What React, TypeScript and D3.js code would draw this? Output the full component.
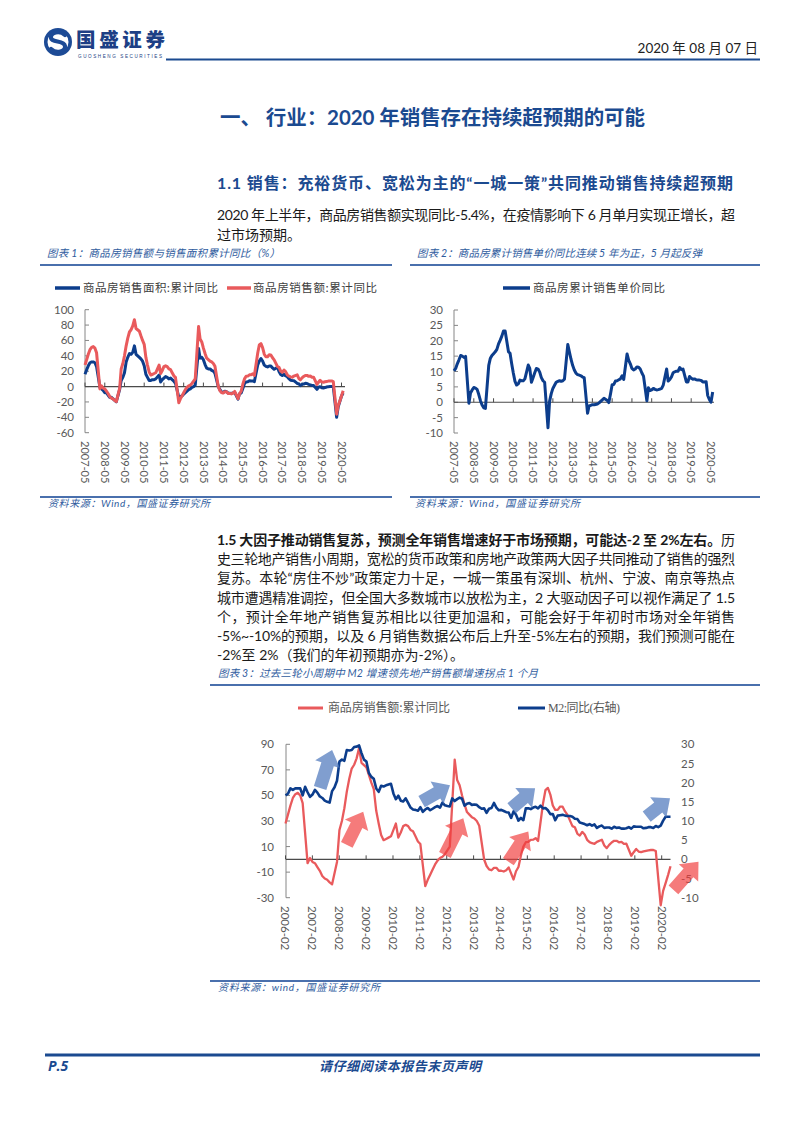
import React from "react";
import * as d3 from "d3";

// ---------- categories ----------
const MONTHS: Date[] = [];
for (let yy = 2007; yy <= 2020; yy++) {
  for (let mm = 1; mm <= 12; mm++) {
    if ((yy === 2007 && mm < 5) || (yy === 2020 && mm > 6)) continue;
    MONTHS.push(new Date(yy, mm - 1, 1));
  }
}
const TICKS_12 = ["2007-05","2008-05","2009-05","2010-05","2011-05","2012-05","2013-05","2014-05","2015-05","2016-05","2017-05","2018-05","2019-05","2020-05"];
const TICKS_3 = ["2006-02","2007-02","2008-02","2009-02","2010-02","2011-02","2012-02","2013-02","2014-02","2015-02","2016-02","2017-02","2018-02","2019-02","2020-02"];
const Y1_TICKS = [100, 80, 60, 40, 20, 0, -20, -40, -60];
const Y2_TICKS = [30, 25, 20, 15, 10, 5, 0, -5, -10];
const Y3L_TICKS = [90, 70, 50, 30, 10, -10, -30];
const Y3R_TICKS = [30, 25, 20, 15, 10, 5, 0, -5, -10];

// ---------- series (monthly, 2007-05 .. 2020-06; January not published => null) ----------
const salesAmountYoY: (number | null)[] = [
  28, 35, 42, 48, 51, 52, 50, 44,
  null, -3, 1, -2, -3, -6, -9, -13, -15, -16, -18, -19.5,
  null, -2, 23, 30, 40, 53, 63, 71, 74, 79, 87, 75.5,
  null, 72, 66, 60, 55, 38, 28, 19, 15, 16, 17, 18,
  null, 28, 17, 21, 26, 27, 26, 23, 22, 18, 14, 12,
  null, -21, -16, -12, -8, -4, -1, 1, 2, 4, 7, 10,
  null, 78, 62, 58, 50, 43, 37, 35, 33, 32, 30, 26.3,
  null, -0.1, -5.2, -7.8, -8.5, -6.7, -6.6, -8.9, -8.9, -9.5, -8.5, -6.3,
  null, -15.8, -9.3, -6.0, 3.0, 10.0, 13.4, 13.6, 15.3, 15.4, 16.6, 14.4,
  null, 43.6, 54.1, 55.9, 50.7, 42.1, 38.7, 38.7, 41.3, 41.2, 37.5, 34.8,
  null, 26.0, 25.1, 20.2, 18.6, 21.5, 19.5, 15.3, 13.5, 12.6, 12.2, 13.7,
  null, 15.3, 10.8, 8.8, 11.3, 13.2, 14.5, 14.5, 13.3, 13.7, 12.1, 12.2,
  null, 2.8, 5.6, 8.1, 6.1, 5.6, 6.2, 6.7, 7.1, 7.3, 7.3, 6.5,
  null, -35.9, -24.7, -18.6, -12.3, -5.4,
];
const salesAreaYoY: (number | null)[] = [
  16, 22, 27, 31, 32, 32, 31, 26,
  null, -1, -3, -5, -8, -8, -11, -14, -14, -16, -18, -19.7,
  null, -3.5, 8, 12, 18, 32, 38, 43, 42, 44.5, 53, 42,
  null, 38, 36, 33, 27, 16, 12, 8, 8, 9, 9, 10,
  null, 15, 6, 9, 11, 13, 12, 10, 11, 9, 7, 4.4,
  null, -14, -13, -12, -10, -8, -6, -4, -3, -1, 0, 2,
  null, 49.5, 37, 38, 35, 28.7, 24, 23, 23, 21, 20, 17.3,
  null, -0.1, -3.8, -6.8, -7.8, -6.0, -6.7, -8.3, -8.6, -8.9, -8.2, -7.6,
  null, -16.3, -9.2, -8.5, -2.6, 4.0, 6.1, 6.2, 7.5, 7.2, 7.4, 6.5,
  null, 28.2, 33.1, 36.5, 33.2, 27.9, 26.4, 25.5, 26.9, 26.8, 24.3, 22.5,
  null, 25.1, 19.5, 15.7, 14.3, 16.1, 14.0, 12.7, 10.3, 8.2, 7.9, 7.7,
  null, 4.1, 3.6, 1.3, 2.9, 3.3, 4.2, 4.0, 2.9, 2.2, 1.4, 1.3,
  null, -3.6, -0.9, -0.3, -1.6, -1.8, -1.3, -0.6, -0.1, 0.1, 0.2, -0.1,
  null, -39.9, -26.3, -19.3, -12.3, -8.4,
];
const priceYoY: (number | null)[] = [
  10.2, 11.0, 12.5, 13.8, 15.2, 15.0, 14.6, 14.9,
  null, -0.3, 3.0, 4.0, 4.8, 4.6, 4.2, 2.5, 0.5, -0.9, -1.8, -2.0,
  null, 12.0, 14.2, 15.2, 15.8, 16.4, 17.2, 19.0, 20.2, 21.5, 23.2, 23.2,
  null, 16.4, 16.0, 12.5, 9.5, 6.8, 5.6, 6.0, 7.2, 7.0, 7.0, 7.6,
  null, 12.1, 11.0, 6.5, 8.0, 9.6, 11.0, 10.8, 9.8, 8.0, 7.0, 6.5,
  null, -8.3, 0.3, 2.8, 4.5, 5.5, 6.5, 6.8, 7.0, 6.8, 7.0, 7.5,
  null, 18.8, 16.5, 14.0, 12.0, 10.5, 9.5, 9.0, 8.8, 8.6, 8.2, 8.0,
  null, -3.6, -1.2, -1.0, -0.8, -0.8, -0.7, -0.6, -0.2, 0.3, 0.8, 1.3,
  null, 0.6, -0.1, 2.7, 5.7, 5.8, 6.9, 7.0, 7.3, 7.6, 8.6, 7.4,
  null, 15.7, 13.7, 12.5, 11.0, 10.5, 10.8, 11.5, 11.4, 10.8, 9.5, 8.5,
  null, 0.5, 4.7, 3.8, 4.0, 4.5, 4.2, 4.0, 4.1, 4.3, 4.5, 5.6,
  null, 10.8, 6.9, 7.4, 8.2, 9.6, 9.9, 10.1, 10.1, 11.3, 10.6, 10.8,
  null, 6.6, 6.6, 8.4, 7.8, 7.5, 7.6, 7.3, 7.2, 7.2, 7.1, 6.6,
  null, 6.7, 2.2, 0.9, 0.0, 3.3,
];
const m2YoY: number[] = [
  16.7, 17.1, 18.5, 18.1, 18.5, 18.5, 18.5, 16.7,
  18.9, 17.5, 16.3, 16.9, 18.1, 17.4, 16.4, 16.0, 15.3, 15.0, 14.8, 17.8,
  18.8, 20.5, 25.5, 26.0, 25.7, 28.5, 28.4, 28.5, 29.3, 29.4, 29.7, 27.7,
  26.0, 25.5, 22.5, 21.5, 21.0, 18.5, 17.6, 19.2, 19.0, 19.3, 19.5, 19.7,
  17.2, 15.7, 16.6, 15.3, 15.1, 15.9, 14.7, 13.5, 13.0, 12.9, 12.7, 13.6,
  12.4, 13.0, 13.4, 12.8, 13.2, 13.6, 13.9, 13.5, 14.8, 14.1, 13.9, 13.8,
  15.9, 15.2, 15.7, 16.1, 15.8, 14.0, 14.5, 14.7, 14.2, 14.3, 14.2, 13.6,
  13.2, 13.3, 12.1, 13.2, 13.4, 14.7, 13.5, 12.8, 12.9, 12.6, 12.3, 12.2,
  10.8, 12.5, 11.6, 10.1, 10.8, 10.2, 13.3, 13.3, 13.1, 13.5, 13.7, 13.3,
  14.0, 13.3, 13.4, 12.8, 11.8, 11.8, 10.2, 11.4, 11.5, 11.6, 11.4, 11.3,
  11.3, 11.1, 10.6, 10.5, 9.6, 9.4, 9.2, 8.9, 9.2, 8.8, 9.1, 8.2,
  8.6, 8.8, 8.2, 8.3, 8.3, 8.0, 8.5, 8.2, 8.3, 8.0, 8.0, 8.1,
  8.4, 8.0, 8.6, 8.5, 8.5, 8.5, 8.1, 8.2, 8.4, 8.4, 8.2, 8.7,
  8.4, 8.8, 10.1, 11.1, 11.1, 11.1,
];
// annotation arrows for chart 3, in data space: [tailIndex, tailValue(left), tipIndex, tipValue(left)]
const blueArrows = [
  [14.1, 55.9, 19.0, 85.6],
  [55.5, 45.1, 67.1, 57.9],
  [92.2, 40.0, 101.8, 55.6],
  [147.3, 33.4, 156.8, 47.8],
];
const redArrows = [
  [25.0, 11.3, 31.7, 37.3],
  [65.0, 3.4, 72.5, 32.2],
  [90.9, -1.8, 99.0, 21.7],
  [158.2, -23.9, 168.4, -1.8],
];

// ---------- text ----------
const PARA1 = ["2020 年上半年，商品房销售额实现同比-5.4%，在疫情影响下 6 月单月实现正增长，超", "过市场预期。"];
const PARA2_BOLD = "1.5 大因子推动销售复苏，预测全年销售增速好于市场预期，可能达-2 至 2%左右。";
const PARA2 = [
  "历",
  "史三轮地产销售小周期，宽松的货币政策和房地产政策两大因子共同推动了销售的强烈",
  "复苏。本轮“房住不炒”政策定力十足，一城一策虽有深圳、杭州、宁波、南京等热点",
  "城市遭遇精准调控，但全国大多数城市以放松为主，2 大驱动因子可以视作满足了 1.5",
  "个，预计全年地产销售复苏相比以往更加温和，可能会好于年初时市场对全年销售",
  "-5%~-10%的预期，以及 6 月销售数据公布后上升至-5%左右的预期，我们预测可能在",
  "-2%至 2%（我们的年初预期亦为-2%）。",
];

const CJK = "'Noto Sans CJK SC', sans-serif";
const MIX = "Lato, 'Noto Sans CJK SC', sans-serif";
const NUM = "Lato, 'Open Sans', sans-serif";
const BLUE = "#0c3d8c";
const RED = "#e95a5c";
const HEAD = "#1b4a90";
const CAP = "#2f5c9e";
const AXIS = "#868686";
const ZERO = "#4a4a4a";
const TICKTXT = "#595959";

const parseM = d3.timeParse("%Y-%m");

type Series = { values: (number | null)[]; color: string; width: number };

function TimeChart(props: {
  x0: number; x1: number; yTop: number; yBot: number; domain: [number, number];
  yTicks: number[]; series: Series[]; zeroEnd: number;
}) {
  const { x0, x1, yTop, yBot, domain, yTicks, series, zeroEnd } = props;
  const x = d3.scaleTime().domain([new Date(2007, 4, 1), new Date(2020, 4, 1)]).range([x0, x1]);
  const y = d3.scaleLinear().domain(domain).range([yBot, yTop]);
  const line = d3.line<[Date, number]>().x((d) => x(d[0])).y((d) => y(d[1]));
  const y0 = y(0);
  return (
    <g>
      <line x1={x0} x2={x0} y1={yTop} y2={yBot} stroke={AXIS} strokeWidth={1} />
      {yTicks.map((t) => (
        <g key={t}>
          <line x1={x0} x2={x0 + 4} y1={y(t)} y2={y(t)} stroke={AXIS} strokeWidth={1} />
          <text x={x0 - 11} y={y(t)} dy="0.35em" textAnchor="end" fontFamily={NUM} fontSize={11.5} fill={TICKTXT}>{t}</text>
        </g>
      ))}
      <line x1={x0} x2={zeroEnd} y1={y0} y2={y0} stroke={ZERO} strokeWidth={1.2} />
      {TICKS_12.map((lab) => {
        const xx = x(parseM(lab) as Date);
        return (
          <g key={lab}>
            <line x1={xx} x2={xx} y1={y0 - 4} y2={y0} stroke={ZERO} strokeWidth={1} />
            <text transform={`translate(${xx},441) rotate(90)`} dy="0.35em" textAnchor="start" fontFamily={NUM} fontSize={11} fill={TICKTXT}>{lab}</text>
          </g>
        );
      })}
      {series.map((s, k) => {
        const pts = MONTHS.map((d, i) => [d, s.values[i]] as [Date, number | null]).filter((p) => p[1] != null) as [Date, number][];
        return <path key={k} d={line(pts) || ""} fill="none" stroke={s.color} strokeWidth={s.width} strokeLinejoin="round" />;
      })}
    </g>
  );
}

function arrowPath(tx: number, ty: number, hx: number, hy: number, shaft: number, head: number, headLen: number) {
  const dx = hx - tx, dy = hy - ty;
  const L = Math.hypot(dx, dy);
  const ux = dx / L, uy = dy / L;
  const px = -uy, py = ux;
  const bx = hx - ux * headLen, by = hy - uy * headLen;
  const pts = [
    [tx + px * shaft / 2, ty + py * shaft / 2],
    [bx + px * shaft / 2, by + py * shaft / 2],
    [bx + px * head / 2, by + py * head / 2],
    [hx, hy],
    [bx - px * head / 2, by - py * head / 2],
    [bx - px * shaft / 2, by - py * shaft / 2],
    [tx - px * shaft / 2, ty - py * shaft / 2],
  ];
  return "M" + pts.map((p) => p[0].toFixed(1) + "," + p[1].toFixed(1)).join("L") + "Z";
}

function Chart3() {
  const xi = d3.scaleLinear().domain([0, MONTHS.length - 1]).range([285.5, 670.5]);
  const xl = d3.scalePoint<string>().domain(TICKS_3).range([285.5, 661.7]);
  const yL = d3.scaleLinear().domain([-30, 90]).range([897.7, 744.3]);
  const yR = d3.scaleLinear().domain([-10, 30]).range([897.7, 744.3]);
  const x0 = 286;
  const y0 = yL(0);
  const redPts = salesAmountYoY.map((v, i) => [i, v] as [number, number | null]).filter((p) => p[1] != null) as [number, number][];
  const bluePts = m2YoY.map((v, i) => [i, v] as [number, number]);
  const lineL = d3.line<[number, number]>().x((d) => xi(d[0])).y((d) => yL(d[1]));
  const lineR = d3.line<[number, number]>().x((d) => xi(d[0])).y((d) => yR(d[1]));
  return (
    <g>
      {/* legend */}
      <line x1={298} x2={323} y1={708} y2={708} stroke={RED} strokeWidth={3} />
      <text x={328} y={712} fontFamily={CJK} fontSize={12} fill={TICKTXT} textLength={122} lengthAdjust="spacing">商品房销售额:累计同比</text>
      <line x1={518} x2={545} y1={708} y2={708} stroke={BLUE} strokeWidth={3} />
      <text x={548} y={712} fontFamily="'Liberation Serif', 'Noto Sans CJK SC', serif" fontSize={12} fill={TICKTXT} textLength={72} lengthAdjust="spacing">M2:同比(右轴)</text>

      <line x1={x0} x2={x0} y1={744.3} y2={897.7} stroke={AXIS} strokeWidth={1} />
      {Y3L_TICKS.map((t) => (
        <g key={t}>
          <line x1={x0} x2={x0 + 4} y1={yL(t)} y2={yL(t)} stroke={AXIS} />
          <text x={274} y={yL(t)} dy="0.35em" textAnchor="end" fontFamily={NUM} fontSize={11.5} fill={TICKTXT}>{t}</text>
        </g>
      ))}
      {Y3R_TICKS.map((t) => (
        <text key={t} x={681} y={yR(t)} dy="0.35em" textAnchor="start" fontFamily={NUM} fontSize={11.5} fill={TICKTXT}>{t}</text>
      ))}
      <line x1={x0} x2={670.5} y1={y0} y2={y0} stroke={ZERO} strokeWidth={1.2} />
      {TICKS_3.map((lab) => {
        const xx = xl(lab) as number;
        return (
          <g key={lab}>
            <line x1={xx} x2={xx} y1={y0 - 4} y2={y0} stroke={ZERO} />
            <text transform={`translate(${xx},906) rotate(90)`} dy="0.35em" fontFamily={NUM} fontSize={11.5} fill={TICKTXT}>{lab}</text>
          </g>
        );
      })}
      <path d={lineL(redPts) || ""} fill="none" stroke={RED} strokeWidth={2.3} strokeLinejoin="round" />
      <path d={lineR(bluePts) || ""} fill="none" stroke={BLUE} strokeWidth={2.6} strokeLinejoin="round" />
      {blueArrows.map((a, k) => (
        <path key={"b" + k} d={arrowPath(xi(a[0]), yL(a[1]), xi(a[2]), yL(a[3]), 13, 26, 15)} fill="#4f79bd" fillOpacity={0.72} />
      ))}
      {redArrows.map((a, k) => (
        <path key={"r" + k} d={arrowPath(xi(a[0]), yL(a[1]), xi(a[2]), yL(a[3]), 13, 26, 15)} fill="#f03c3c" fillOpacity={0.68} />
      ))}
    </g>
  );
}

function Logo() {
  return (
    <g>
      <circle cx={58} cy={42} r={14} fill="#1d4b96" />
      <circle cx={58} cy={42} r={10.5} fill="#fff" />
      <path d="M65,35 C60,30 50,32 51,38 C52,43 64,40 65,46 C66,52 56,54 51,49" fill="none" stroke="#1d4b96" strokeWidth={4.2} strokeLinecap="round" />
      <text x={76} y={47} fontFamily={CJK} fontWeight={900} fontSize={19.5} fill="#1d3f85" textLength={89} lengthAdjust="spacing">国盛证券</text>
      <text x={78} y={57.8} fontFamily="'Liberation Sans', sans-serif" fontSize={4.6} fill="#1d3f85" textLength={84} lengthAdjust="spacing">GUOSHENG SECURITIES</text>
    </g>
  );
}

export default function App() {
  const p2y = (i: number) => 545 + 19.17 * i;
  return (
    <svg width={800} height={1132} viewBox="0 0 800 1132" style={{ position: "absolute", left: 0, top: 0, background: "#fff" }}>
      <rect x={0} y={0} width={800} height={1132} fill="#fff" />
      <Logo />
      <text x={758} y={53} textAnchor="end" fontFamily={MIX} fontSize={13.5} fill="#222">2020 年 08 月 07 日</text>
      <line x1={166} x2={760} y1={59.5} y2={59.5} stroke={HEAD} strokeWidth={2} />

      <text x={220} y={125} fontFamily={MIX} fontWeight={700} fontSize={20.5} fill={HEAD} textLength={425} lengthAdjust="spacing">一、 行业：2020 年销售存在持续超预期的可能</text>
      <text x={217} y={189} fontFamily={MIX} fontWeight={700} fontSize={16} fill={HEAD} textLength={516} lengthAdjust="spacing">1.1 销售：充裕货币、宽松为主的“一城一策”共同推动销售持续超预期</text>
      <text x={217} y={220} fontFamily={MIX} fontSize={14} fill="#1a1a1a" textLength={518} lengthAdjust="spacing">{PARA1[0]}</text>
      <text x={217} y={240} fontFamily={MIX} fontSize={14} fill="#1a1a1a">{PARA1[1]}</text>

      {/* chart captions */}
      <text x={47} y={257} fontFamily={MIX} fontStyle="italic" fontSize={10.5} fill={CAP} textLength={233} lengthAdjust="spacing">图表 1：商品房销售额与销售面积累计同比（%）</text>
      <text x={417} y={257} fontFamily={MIX} fontStyle="italic" fontSize={10.5} fill={CAP} textLength={285} lengthAdjust="spacing">图表 2：商品房累计销售单价同比连续 5 年为正，5 月起反弹</text>
      <line x1={40} x2={392} y1={265} y2={265} stroke="#4a70ad" strokeWidth={2} />
      <line x1={410} x2={760} y1={265} y2={265} stroke="#4a70ad" strokeWidth={2} />

      {/* chart 1 legend */}
      <line x1={55} x2={80} y1={288} y2={288} stroke={BLUE} strokeWidth={3.5} />
      <text x={83} y={292} fontFamily={CJK} fontSize={11.5} fill="#404040" textLength={135} lengthAdjust="spacing">商品房销售面积:累计同比</text>
      <line x1={227} x2={251} y1={288} y2={288} stroke={RED} strokeWidth={3.5} />
      <text x={253} y={292} fontFamily={CJK} fontSize={11.5} fill="#404040" textLength={124} lengthAdjust="spacing">商品房销售额:累计同比</text>
      <TimeChart x0={85} x1={341.5} yTop={309.7} yBot={432.7} domain={[-60, 100]} yTicks={Y1_TICKS} zeroEnd={345}
        series={[{ values: salesAreaYoY, color: BLUE, width: 3 }, { values: salesAmountYoY, color: RED, width: 3 }]} />

      {/* chart 2 legend */}
      <line x1={503} x2={530} y1={288} y2={288} stroke={BLUE} strokeWidth={3.5} />
      <text x={533} y={292} fontFamily={CJK} fontSize={11.5} fill="#404040" textLength={132} lengthAdjust="spacing">商品房累计销售单价同比</text>
      <TimeChart x0={454} x1={711} yTop={310} yBot={433} domain={[-10, 30]} yTicks={Y2_TICKS} zeroEnd={714}
        series={[{ values: priceYoY, color: BLUE, width: 3 }]} />

      <line x1={40} x2={392} y1={497} y2={497} stroke="#4a70ad" strokeWidth={2} />
      <line x1={410} x2={760} y1={497} y2={497} stroke="#4a70ad" strokeWidth={2} />
      <text x={48} y={507} fontFamily={MIX} fontStyle="italic" fontSize={10} fill={CAP} textLength={162} lengthAdjust="spacing">资料来源：Wind，国盛证券研究所</text>
      <text x={415} y={507} fontFamily={MIX} fontStyle="italic" fontSize={10} fill={CAP} textLength={165} lengthAdjust="spacing">资料来源：Wind，国盛证券研究所</text>

      {/* paragraph 2 */}
      <text x={217} y={p2y(0)} fontFamily={MIX} fontSize={14} fill="#1a1a1a" textLength={518} lengthAdjust="spacing">
        <tspan fontWeight={700}>{PARA2_BOLD}</tspan><tspan>{PARA2[0]}</tspan>
      </text>
      {PARA2.slice(1).map((s, i) => (
        <text key={i} x={217} y={p2y(i + 1)} fontFamily={MIX} fontSize={14} fill="#1a1a1a"
          {...(i < 5 ? { textLength: 518, lengthAdjust: "spacing" } : {})}>{s}</text>
      ))}

      <text x={218} y={677} fontFamily={MIX} fontStyle="italic" fontSize={10.5} fill={CAP} textLength={320} lengthAdjust="spacing">图表 3：过去三轮小周期中 M2 增速领先地产销售额增速拐点 1 个月</text>
      <line x1={210} x2={760} y1={685} y2={685} stroke="#4a70ad" strokeWidth={2} />
      <Chart3 />
      <line x1={210} x2={760} y1={981} y2={981} stroke="#4a70ad" strokeWidth={2} />
      <text x={218} y={991} fontFamily={MIX} fontStyle="italic" fontSize={10} fill={CAP} textLength={162} lengthAdjust="spacing">资料来源：wind，国盛证券研究所</text>

      {/* footer */}
      <line x1={45} x2={760} y1={1055} y2={1055} stroke={HEAD} strokeWidth={3} />
      <text x={48} y={1071} fontFamily="'Open Sans', sans-serif" fontWeight={700} fontStyle="italic" fontSize={14} fill={HEAD}>P.5</text>
      <text x={400} y={1071} textAnchor="middle" fontFamily={CJK} fontWeight={700} fontStyle="italic" fontSize={13} fill={HEAD} textLength={162} lengthAdjust="spacing">请仔细阅读本报告末页声明</text>
    </svg>
  );
}
